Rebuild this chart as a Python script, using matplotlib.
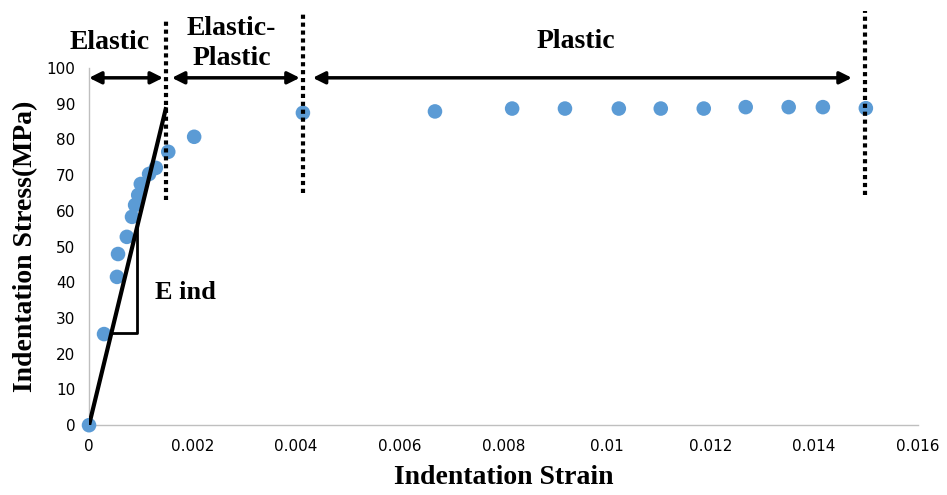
import matplotlib
matplotlib.use('Agg')
import matplotlib.pyplot as plt
import numpy as np

# data
strain = [0, 0.00029, 0.00054, 0.00056, 0.00073, 0.00083, 0.00089, 0.00095,
          0.00100, 0.00116, 0.00129, 0.00153, 0.00203, 0.00413,
          0.00668, 0.00817, 0.00919, 0.01023, 0.01104, 0.01187,
          0.01268, 0.01351, 0.01417, 0.01500]
stress = [0, 25.5, 41.5, 47.9, 52.7, 58.3, 61.6, 64.4,
          67.5, 70.3, 72.0, 76.5, 80.7, 87.4,
          87.8, 88.6, 88.6, 88.6, 88.6, 88.6,
          89.0, 89.0, 89.0, 88.7]

fit_x = [0, 0.00149]
fit_y = [0, 89]
tri_x = [0.00043, 0.00093, 0.00093]
tri_y = [25.8, 25.8, 55.5]

boundaries = [0.00149, 0.00413, 0.01498]
bound_top = [114, 116, 116]
bound_bottom = [63, 65, 64.5]

regions = ['Elastic', 'Elastic-\nPlastic', 'Plastic']
region_x = [0.0004, 0.00275, 0.00940]
region_y = [107, 106.8, 107.5]
arrow_span = [(0.0, 0.00143), (0.0016, 0.00407), (0.00432, 0.01473)]
arrow_y = 97.2

xticks = np.arange(0, 0.0161, 0.002)
xlabels = ['0', '0.002', '0.004', '0.006', '0.008', '0.01', '0.012', '0.014', '0.016']
yticks = np.arange(0, 101, 10)

fig = plt.figure(figsize=(9.47, 4.95), dpi=100)
ax = fig.add_axes([0.094, 0.141, 0.875, 0.722])

ax.scatter(strain, stress, s=110, color='#5B9BD5', zorder=3, clip_on=False,
           edgecolors='none')
ax.plot(fit_x, fit_y, color='black', linewidth=3, zorder=4,
        solid_capstyle='butt')
ax.plot(tri_x, tri_y, color='black', linewidth=2, zorder=4)

for bx, top, bot in zip(boundaries, bound_top, bound_bottom):
    ax.plot([bx, bx], [bot, top], color='black', linestyle=(0, (1, 0.9)),
            linewidth=3, clip_on=False, zorder=5)

for (x0, x1) in arrow_span:
    ax.annotate('', xy=(x1, arrow_y), xytext=(x0, arrow_y),
                arrowprops=dict(arrowstyle='<|-|>', color='black', lw=2.5,
                                mutation_scale=18, shrinkA=0, shrinkB=0),
                annotation_clip=False)

for name, tx, ty in zip(regions, region_x, region_y):
    ax.text(tx, ty, name, ha='center', va='center', fontsize=20,
            fontweight='bold', family='Liberation Serif', linespacing=1.3)

ax.text(0.00127, 37, 'E ind', ha='left', va='center', fontsize=19,
        fontweight='bold', family='Liberation Serif')

ax.set_xlim(0, 0.016)
ax.set_ylim(0, 100)
ax.set_xticks(xticks)
ax.set_xticklabels(xlabels)
ax.set_yticks(yticks)
ax.tick_params(length=0, labelsize=11, pad=10)
for lab in ax.get_xticklabels() + ax.get_yticklabels():
    lab.set_family('Liberation Sans Narrow')

for side in ['top', 'right']:
    ax.spines[side].set_visible(False)
for side in ['left', 'bottom']:
    ax.spines[side].set_color('#BFBFBF')
    ax.spines[side].set_linewidth(1)

ax.set_xlabel('Indentation Strain', fontsize=20, fontweight='bold',
              family='Liberation Serif', labelpad=8)
ax.set_ylabel('Indentation Stress(MPa)', fontsize=20, fontweight='bold',
              family='Liberation Serif', labelpad=6)

fig.savefig('out.png', dpi=100)
